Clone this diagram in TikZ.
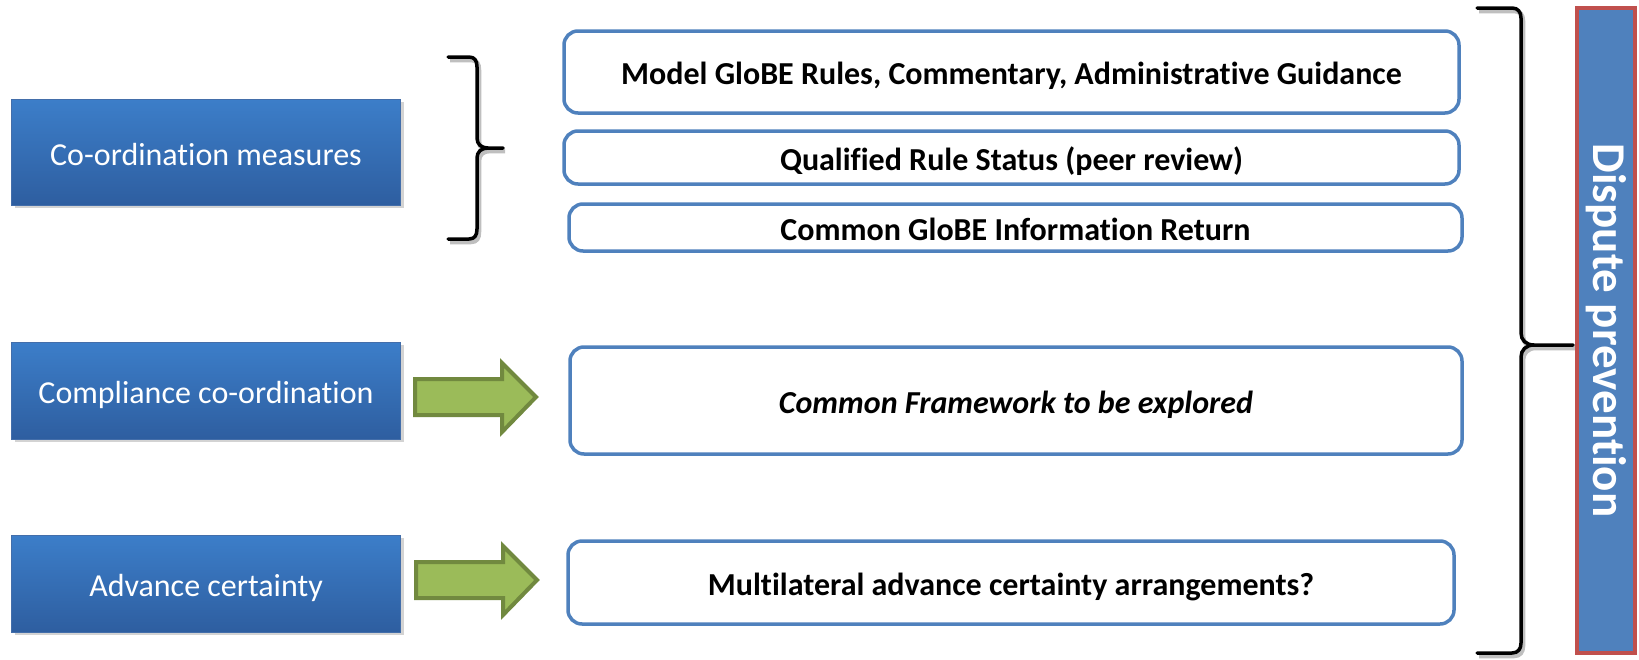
\documentclass[tikz,border=0pt]{standalone}
\usepackage{fontspec}
\setmainfont[Ligatures=NoCommon]{Carlito}
\usetikzlibrary{shadows}
\definecolor{ofBlue}{RGB}{79,129,189}
\definecolor{ofRed}{RGB}{192,80,77}
\definecolor{boxTop}{RGB}{60,126,201}
\definecolor{boxBot}{RGB}{46,94,160}
\definecolor{arrFill}{RGB}{155,187,89}
\definecolor{arrLine}{RGB}{113,137,63}
\tikzset{
  topic/.style={rectangle, minimum width=389pt, top color=boxTop, bottom color=boxBot,
    draw=boxBot!90!white, line width=0.8pt, text=white, font=\fontsize{32}{38}\selectfont,
    text height=26pt, text depth=0pt,
    drop shadow={opacity=0.35, shadow xshift=3pt, shadow yshift=-3pt}},
  item/.style={rectangle, rounded corners=14pt, draw=ofBlue, line width=3.5pt, fill=white,
    font=\bfseries\fontsize{32}{38}\selectfont, text height=28pt, text depth=3pt, inner ysep=2pt},
  bracket/.style={line width=3.5pt, line cap=round, line join=round,
    preaction={draw=black!25, line width=4.5pt, transform canvas={shift={(2pt,-3pt)}}}},
  greenarrow/.style={fill=arrFill, draw=arrLine, line width=4pt, line join=miter}
}
\begin{document}
\begin{tikzpicture}[x=1pt,y=-1pt]
\useasboundingbox (0,0) rectangle (1639,659);

% left topics
\node[topic, minimum height=106pt] (coord) at (206,152) {Co-ordination measures};
\node[topic, minimum height=97pt] (compl) at (206,390.5) {Compliance co-ordination};
\node[topic, minimum height=97pt] (adv) at (206,583.5) {Advance certainty};

% items
\node[item, minimum width=895pt, minimum height=82pt] (model) at (1011.5,72) {Model GloBE Rules, Commentary, Administrative Guidance};
\node[item, minimum width=895pt, minimum height=53pt] (qrs) at (1011.5,157.5) {Qualified Rule Status (peer review)};
\node[item, minimum width=893pt, minimum height=47pt] (gir) at (1015.5,227.5) {Common GloBE Information Return};
\node[item, minimum width=892pt, minimum height=107pt] (frame) at (1016,400.5) {\itshape Common Framework to be explored};
\node[item, minimum width=886pt, minimum height=83pt] (multi) at (1011,582.5) {Multilateral advance certainty arrangements?};

% green arrows
\coordinate (a1) at (415,397);
\draw[greenarrow] (a1) ++(0,-18) -- ++(87,0) -- ++(0,-16) -- ++(34,34) -- ++(-34,35)
  -- ++(0,-17) -- ++(-87,0) -- cycle;
\coordinate (a2) at (416,580);
\draw[greenarrow] (a2) ++(0,-18) -- ++(87,0) -- ++(0,-16) -- ++(34,34) -- ++(-34,35)
  -- ++(0,-17) -- ++(-87,0) -- cycle;

% small brace
\coordinate (b1) at (448,57);
\draw[bracket] (b1) -- (469,57) .. controls (475,57) and (477,61) .. (477,67)
  -- (477,138) .. controls (477,144) and (481,148) .. (488,148) -- (503,148)
  (488,148) .. controls (481,148) and (477,152) .. (477,158)
  -- (477,229) .. controls (477,235) and (475,239) .. (469,239) -- (448,239);

% big brace
\coordinate (b2) at (1477,8);
\draw[bracket] (b2) -- (1512,8) .. controls (1518,8) and (1521,12) .. (1521,18)
  -- (1521,333) .. controls (1521,340) and (1526,345) .. (1534,345) -- (1573,345)
  (1534,345) .. controls (1526,345) and (1521,350) .. (1521,357)
  -- (1521,643) .. controls (1521,649) and (1518,653) .. (1512,653) -- (1477,653);

% side banner
\node[rectangle, draw=ofRed, fill=ofBlue, line width=3.5pt, minimum width=58pt, minimum height=645pt,
  inner sep=0pt] (banner) at (1606,330.5) {};
\node[rotate=-90, text=white, font=\bfseries\fontsize{47}{54}\selectfont] (bannertext) at (banner.center) {Dispute prevention};
\end{tikzpicture}
\end{document}
